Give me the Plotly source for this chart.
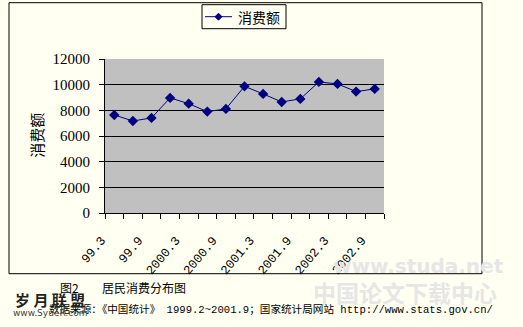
import plotly.graph_objects as go

# ---- data ----
categories = ["99.3", "99.6", "99.9", "99.12",
              "2000.3", "2000.6", "2000.9", "2000.12",
              "2001.3", "2001.6", "2001.9", "2001.12",
              "2002.3", "2002.6", "2002.9"]
consumption = [7640, 7170, 7410, 8970, 8520, 7900, 8110, 9870,
               9280, 8655, 8890, 10215, 10060, 9460, 9670]
series_name = "消费额"
y_ticks = [0, 2000, 4000, 6000, 8000, 10000, 12000]
y_tick_text = [str(v) for v in y_ticks]
shown_labels = categories[::2]

W, H = 523, 327
L, R, T, B = 105, 384, 59.3, 213.3

def px(x):
    return (x - L) / (R - L)

def py(y):
    return (B - y) / (B - T)

BG = "#FFFFF2"
NAVY = "#000080"
cjk = "Noto Sans CJK SC"
serif = "Liberation Serif, Noto Sans CJK SC"
mono = "Liberation Mono, Noto Sans CJK SC"

idx = list(range(len(categories)))

fig = go.Figure()
fig.add_trace(go.Scatter(
    x=idx, y=consumption, name=series_name, mode="lines+markers",
    line=dict(color=NAVY, width=1),
    marker=dict(symbol="diamond", size=8, color=NAVY),
    showlegend=False,
))

fig.update_layout(
    width=W, height=H, autosize=False,
    margin=dict(l=L, r=W - R, t=T, b=H - B, pad=0),
    paper_bgcolor=BG, plot_bgcolor="#C0C0C0",
    showlegend=False,
    xaxis=dict(
        range=[-0.5, len(categories) - 0.5],
        tickmode="array", tickvals=idx[::2], ticktext=shown_labels,
        tickangle=-50, ticks="", showgrid=False, zeroline=False,
        showline=True, linecolor="black", linewidth=1,
        tickfont=dict(family=mono, size=12.5, color="black"),
        ticklabelstandoff=14, ticklabelshift=-13,
        minor=dict(tickmode="linear", tick0=-0.5, dtick=1, ticks="outside",
                   ticklen=5, tickcolor="black", tickwidth=1, showgrid=False),
    ),
    yaxis=dict(
        range=[0, 12000], tickmode="array", tickvals=y_ticks, ticktext=y_tick_text,
        ticks="outside", ticklen=5, tickcolor="black",
        showgrid=True, gridcolor="black", gridwidth=1, zeroline=False,
        showline=True, linecolor="black", linewidth=1,
        tickfont=dict(family=serif, size=15, color="black"),
        ticklabelstandoff=6,
    ),
    font=dict(family=cjk),
)

# outer chart frame
fig.add_shape(type="rect", xref="paper", yref="paper",
              x0=px(9), x1=px(482), y0=py(274), y1=py(3),
              line=dict(color="black", width=1), fillcolor="rgba(0,0,0,0)")

# legend box (drawn like the original: line sample with diamond and name)
fig.add_shape(type="rect", xref="paper", yref="paper",
              x0=px(202), x1=px(286), y0=py(29), y1=py(5),
              line=dict(color="black", width=1), fillcolor=BG)
fig.add_shape(type="line", xref="paper", yref="paper",
              x0=px(205), x1=px(232), y0=py(17), y1=py(17),
              line=dict(color=NAVY, width=1))
cx, cy, r = 218.5, 17, 3.5
fig.add_shape(type="path", xref="paper", yref="paper",
              path=f"M {px(cx - r)},{py(cy)} L {px(cx)},{py(cy - r)} L {px(cx + r)},{py(cy)} L {px(cx)},{py(cy + r)} Z",
              line=dict(color=NAVY, width=1), fillcolor=NAVY)

ann = []
ann.append(dict(text=series_name, x=px(236), y=py(17), xanchor="left",
                font=dict(family=cjk, size=14, color="black")))
# y axis title
ann.append(dict(text="消费额", x=px(37), y=py(136), textangle=-90,
                font=dict(family=cjk, size=15, color="black")))
# watermarks (faint)
ann.append(dict(text="<b>www.studa.net</b>", x=px(418), y=py(266),
                font=dict(family="DejaVu Sans", size=20, color="#E6E6E6")))
ann.append(dict(text="<b>中国论文下载中心</b>", x=px(405), y=py(292),
                font=dict(family=cjk, size=23, color="#E6E6E6")))
# caption
ann.append(dict(text="图2", x=px(69), y=py(288),
                font=dict(family=cjk, size=12, color="black")))
ann.append(dict(text="居民消费分布图", x=px(144), y=py(288),
                font=dict(family=cjk, size=12, color="black")))
# source line
ann.append(dict(text="数据来源：《中国统计》 1999.2~2001.9；国家统计局网站 http://www.stats.gov.cn/",
                x=px(47), y=py(310), xanchor="left",
                font=dict(family=mono, size=10.6, color="black")))
# site watermark bottom-left
ann.append(dict(text="<b>岁 月 联 盟</b>", x=px(50), y=py(300),
                font=dict(family=cjk, size=15, color="#222222")))
ann.append(dict(text="www.SyueR.com", x=px(50), y=py(313),
                font=dict(family="DejaVu Sans", size=9, color="#444444")))

for a in ann:
    a.setdefault("xanchor", "center")
    a.update(xref="paper", yref="paper", yanchor="middle", showarrow=False)
    fig.add_annotation(**a)

fig.write_html("out.html")
